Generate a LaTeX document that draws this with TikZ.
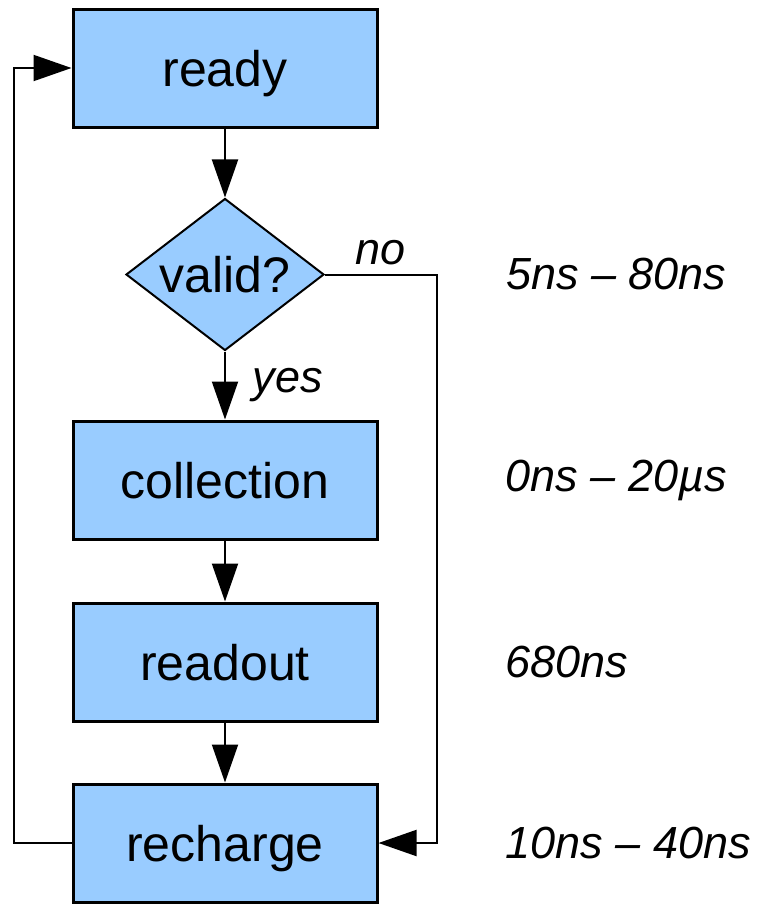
\documentclass[tikz,border=0pt]{standalone}
\usepackage{fontspec}
\setmainfont{Liberation Sans}
\usetikzlibrary{positioning,shapes.geometric,arrows.meta}
\definecolor{stateblue}{RGB}{153,204,255}

\begin{document}
\begin{tikzpicture}[
        box/.style={draw, line width=1.5pt, fill=stateblue, minimum width=152pt, minimum height=59pt, text depth=0pt, font=\fontsize{25}{30}\selectfont},
        test/.style={draw, line width=1pt, fill=stateblue, diamond, aspect=1.3, inner sep=0pt, minimum width=99pt, minimum height=76pt, font=\fontsize{25}{30}\selectfont},
        lbl/.style={font=\fontsize{22.5}{27}\selectfont\itshape},
        timing/.style={lbl, anchor=west},
        arr/.style={line width=1pt, -{Triangle[length=19pt,width=13pt]}}
    ]
        \useasboundingbox (0,0) rectangle (378.5pt,-452.5pt);

        % states of the pixel cycle
        \node[box] (ready) at (112.5pt,-34pt) {ready};
        \node[test, below = 34.5pt of ready] (valid) {valid?};
        \node[box, below = 34pt of valid] (collection) {collection};
        \node[box, below = 30.5pt of collection] (readout) {readout};
        \node[box, below = 30pt of readout] (recharge) {recharge};

        % durations
        \node[timing, right = 87pt of valid] (tvalid) {5ns – 80ns};
        \node[timing, right = 60pt of collection] (tcollection) {0ns – 20µs};
        \node[timing, right = 60pt of readout] (treadout) {680ns};
        \node[timing, right = 60pt of recharge] (trecharge) {10ns – 40ns};

        \coordinate (noturn) at ([xshift=56pt]valid.east);
        \coordinate (back) at ([xshift=-29pt]recharge.west);

        \draw[arr] (ready) -- (valid);
        \draw[arr] (valid) -- node[lbl, right = 10pt] {yes} (collection);
        \draw[arr] (collection) -- (readout);
        \draw[arr] (readout) -- (recharge);
        \draw[arr] (valid.east) -- node[lbl, above = 1pt] {no} (noturn) |- (recharge.east);
        \draw[arr] (recharge.west) -- (back) |- (ready.west);
    \end{tikzpicture}
\end{document}
